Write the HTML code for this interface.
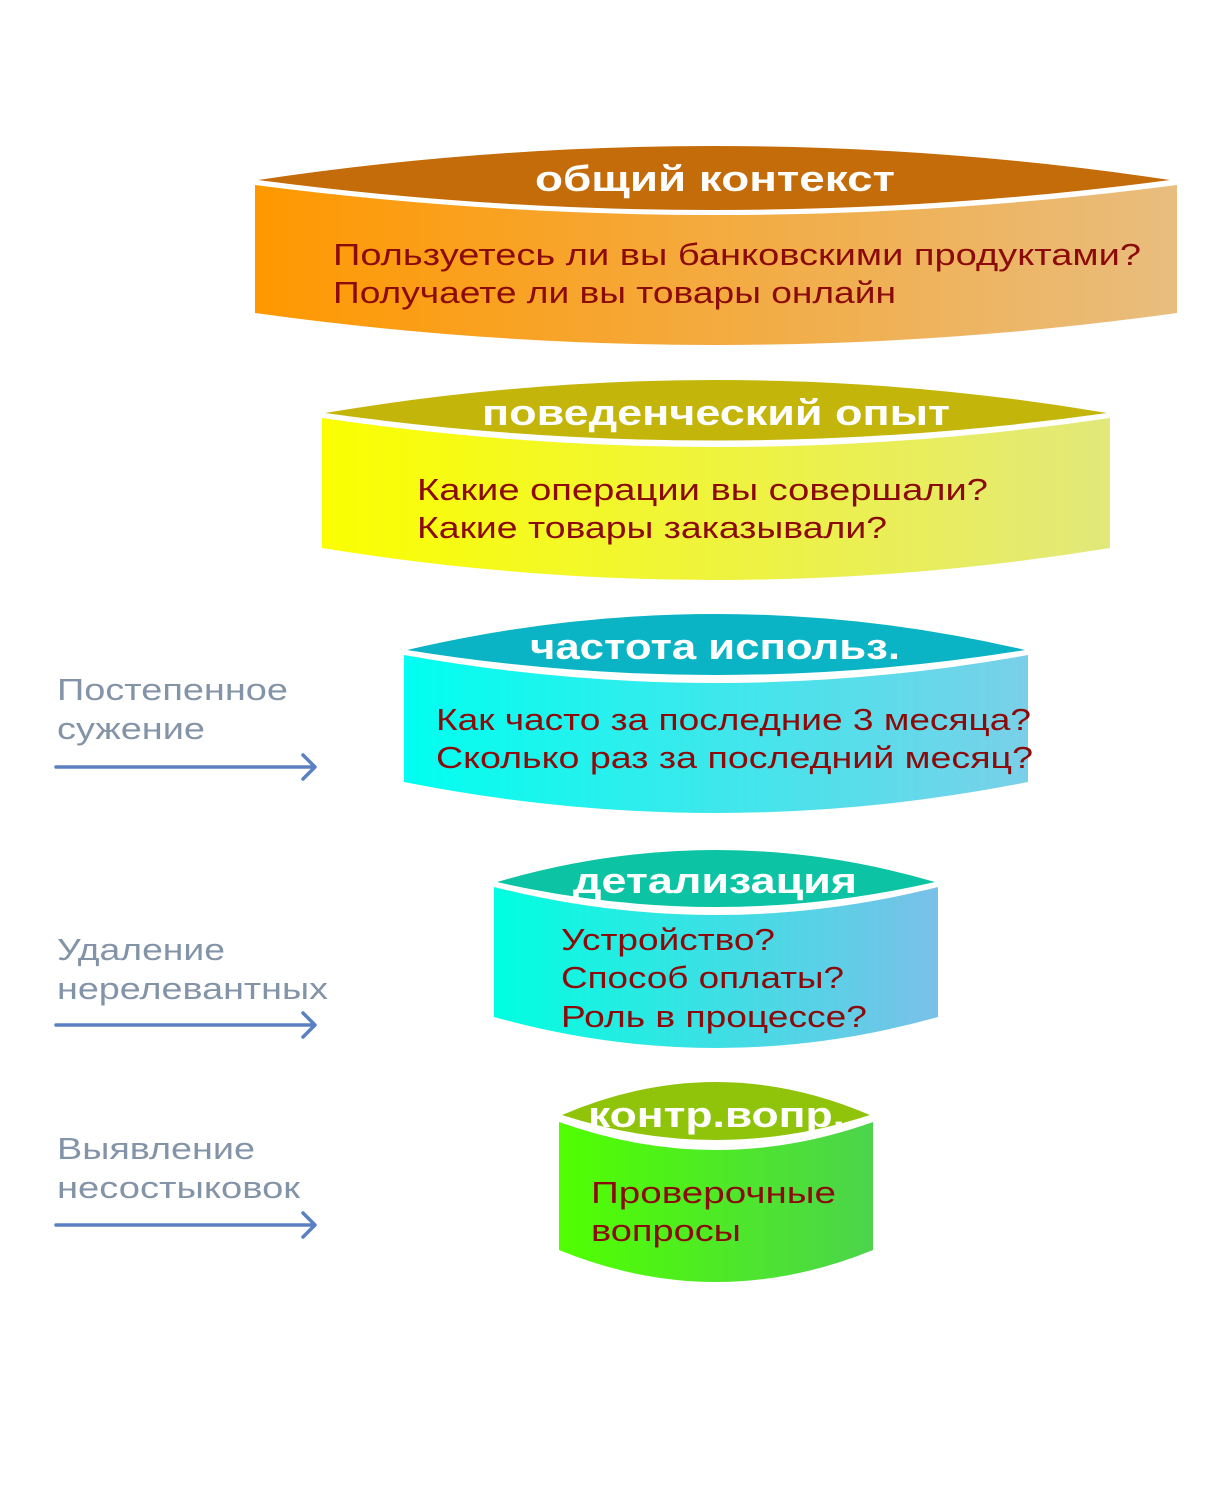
<!DOCTYPE html>
<html><head><meta charset="utf-8"><style>html,body{margin:0;padding:0;background:#fff}svg{display:block}</style></head>
<body>
<svg width="1219" height="1499" viewBox="0 0 1219 1499" xmlns="http://www.w3.org/2000/svg" font-family="'Liberation Sans', sans-serif">
<defs>
<linearGradient id="g1" x1="0" x2="1"><stop offset="0" stop-color="#ff9800"/><stop offset="1" stop-color="#e8bd7e"/></linearGradient>
<linearGradient id="g2" x1="0" x2="1"><stop offset="0" stop-color="#fbff00"/><stop offset="1" stop-color="#e2e87a"/></linearGradient>
<linearGradient id="g3" x1="0" x2="1"><stop offset="0" stop-color="#00fff0"/><stop offset="1" stop-color="#7ad0e8"/></linearGradient>
<linearGradient id="g4" x1="0" x2="1"><stop offset="0" stop-color="#00ffe0"/><stop offset="1" stop-color="#7ac0e8"/></linearGradient>
<linearGradient id="g5" x1="0" x2="1"><stop offset="0" stop-color="#50ff00"/><stop offset="1" stop-color="#4cd44c"/></linearGradient>
</defs>

<!-- Band 1 -->
<path d="M255,185 Q716,245 1177,185 L1177,313 Q716,377 255,313 Z" fill="url(#g1)"/>
<path d="M258,180 Q714,112 1170,180 Q714,240 258,180 Z" fill="#c46c0a"/>
<!-- Band 2 -->
<path d="M322,418 Q716,476 1110,418 L1110,548 Q716,612 322,548 Z" fill="url(#g2)"/>
<path d="M325,413 Q716,347 1107,413 Q716,468 325,413 Z" fill="#c4b50a"/>
<!-- Band 3 -->
<path d="M404,655 Q716,711 1028,655 L1028,782 Q716,844 404,782 Z" fill="url(#g3)"/>
<path d="M407,650 Q716,578 1025,650 Q716,700 407,650 Z" fill="#0ab4c4"/>
<!-- Band 4 -->
<path d="M494,887 Q716,943 938,887 L938,1017 Q716,1079 494,1017 Z" fill="url(#g4)"/>
<path d="M497,882 Q716,818 935,882 Q716,932 497,882 Z" fill="#0cc4a4"/>
<!-- Band 5 -->
<path d="M559,1122 Q716,1178 873,1122 L873,1250 Q716,1314 559,1250 Z" fill="url(#g5)"/>
<path d="M562,1115 Q716,1049 870,1115 Q716,1165 562,1115 Z" fill="#8fc40a"/>

<g fill="#fff" font-weight="bold" font-size="36" lengthAdjust="spacingAndGlyphs">
<text x="535" y="191" textLength="360" lengthAdjust="spacingAndGlyphs">общий контекст</text>
<text x="482" y="425" textLength="468" lengthAdjust="spacingAndGlyphs">поведенческий опыт</text>
<text x="530" y="659" textLength="370" lengthAdjust="spacingAndGlyphs">частота использ.</text>
<text x="573" y="893" textLength="284" lengthAdjust="spacingAndGlyphs">детализация</text>
<text x="588" y="1127" textLength="257" lengthAdjust="spacingAndGlyphs">контр.вопр.</text>
</g>

<g fill="#8b0a0a" font-size="31">
<text x="333" y="265" textLength="808" lengthAdjust="spacingAndGlyphs">Пользуетесь ли вы банковскими продуктами?</text>
<text x="333" y="303" textLength="563" lengthAdjust="spacingAndGlyphs">Получаете ли вы товары онлайн</text>
<text x="417" y="500" textLength="571" lengthAdjust="spacingAndGlyphs">Какие операции вы совершали?</text>
<text x="417" y="538" textLength="470" lengthAdjust="spacingAndGlyphs">Какие товары заказывали?</text>
<text x="436" y="730" textLength="595" lengthAdjust="spacingAndGlyphs">Как часто за последние 3 месяца?</text>
<text x="436" y="768" textLength="597" lengthAdjust="spacingAndGlyphs">Сколько раз за последний месяц?</text>
<text x="561" y="950" textLength="214" lengthAdjust="spacingAndGlyphs">Устройство?</text>
<text x="561" y="988" textLength="283" lengthAdjust="spacingAndGlyphs">Способ оплаты?</text>
<text x="561" y="1027" textLength="306" lengthAdjust="spacingAndGlyphs">Роль в процессе?</text>
<text x="591" y="1203" textLength="245" lengthAdjust="spacingAndGlyphs">Проверочные</text>
<text x="591" y="1241" textLength="150" lengthAdjust="spacingAndGlyphs">вопросы</text>
</g>

<g fill="#8494a8" font-size="31">
<text x="57" y="700" textLength="231" lengthAdjust="spacingAndGlyphs">Постепенное</text>
<text x="57" y="739" textLength="148" lengthAdjust="spacingAndGlyphs">сужение</text>
<text x="57" y="960" textLength="168" lengthAdjust="spacingAndGlyphs">Удаление</text>
<text x="57" y="999" textLength="271" lengthAdjust="spacingAndGlyphs">нерелевантных</text>
<text x="57" y="1159" textLength="198" lengthAdjust="spacingAndGlyphs">Выявление</text>
<text x="57" y="1198" textLength="243" lengthAdjust="spacingAndGlyphs">несостыковок</text>
</g>

<g stroke="#5b80c2" stroke-width="3.5" fill="none" stroke-linecap="round" stroke-linejoin="round">
<path d="M56,767 L314,767 M303,755 L315,767 L303,779"/>
<path d="M56,1025 L314,1025 M303,1013 L315,1025 L303,1037"/>
<path d="M56,1225 L314,1225 M303,1213 L315,1225 L303,1237"/>
</g>
</svg>
</body></html>
